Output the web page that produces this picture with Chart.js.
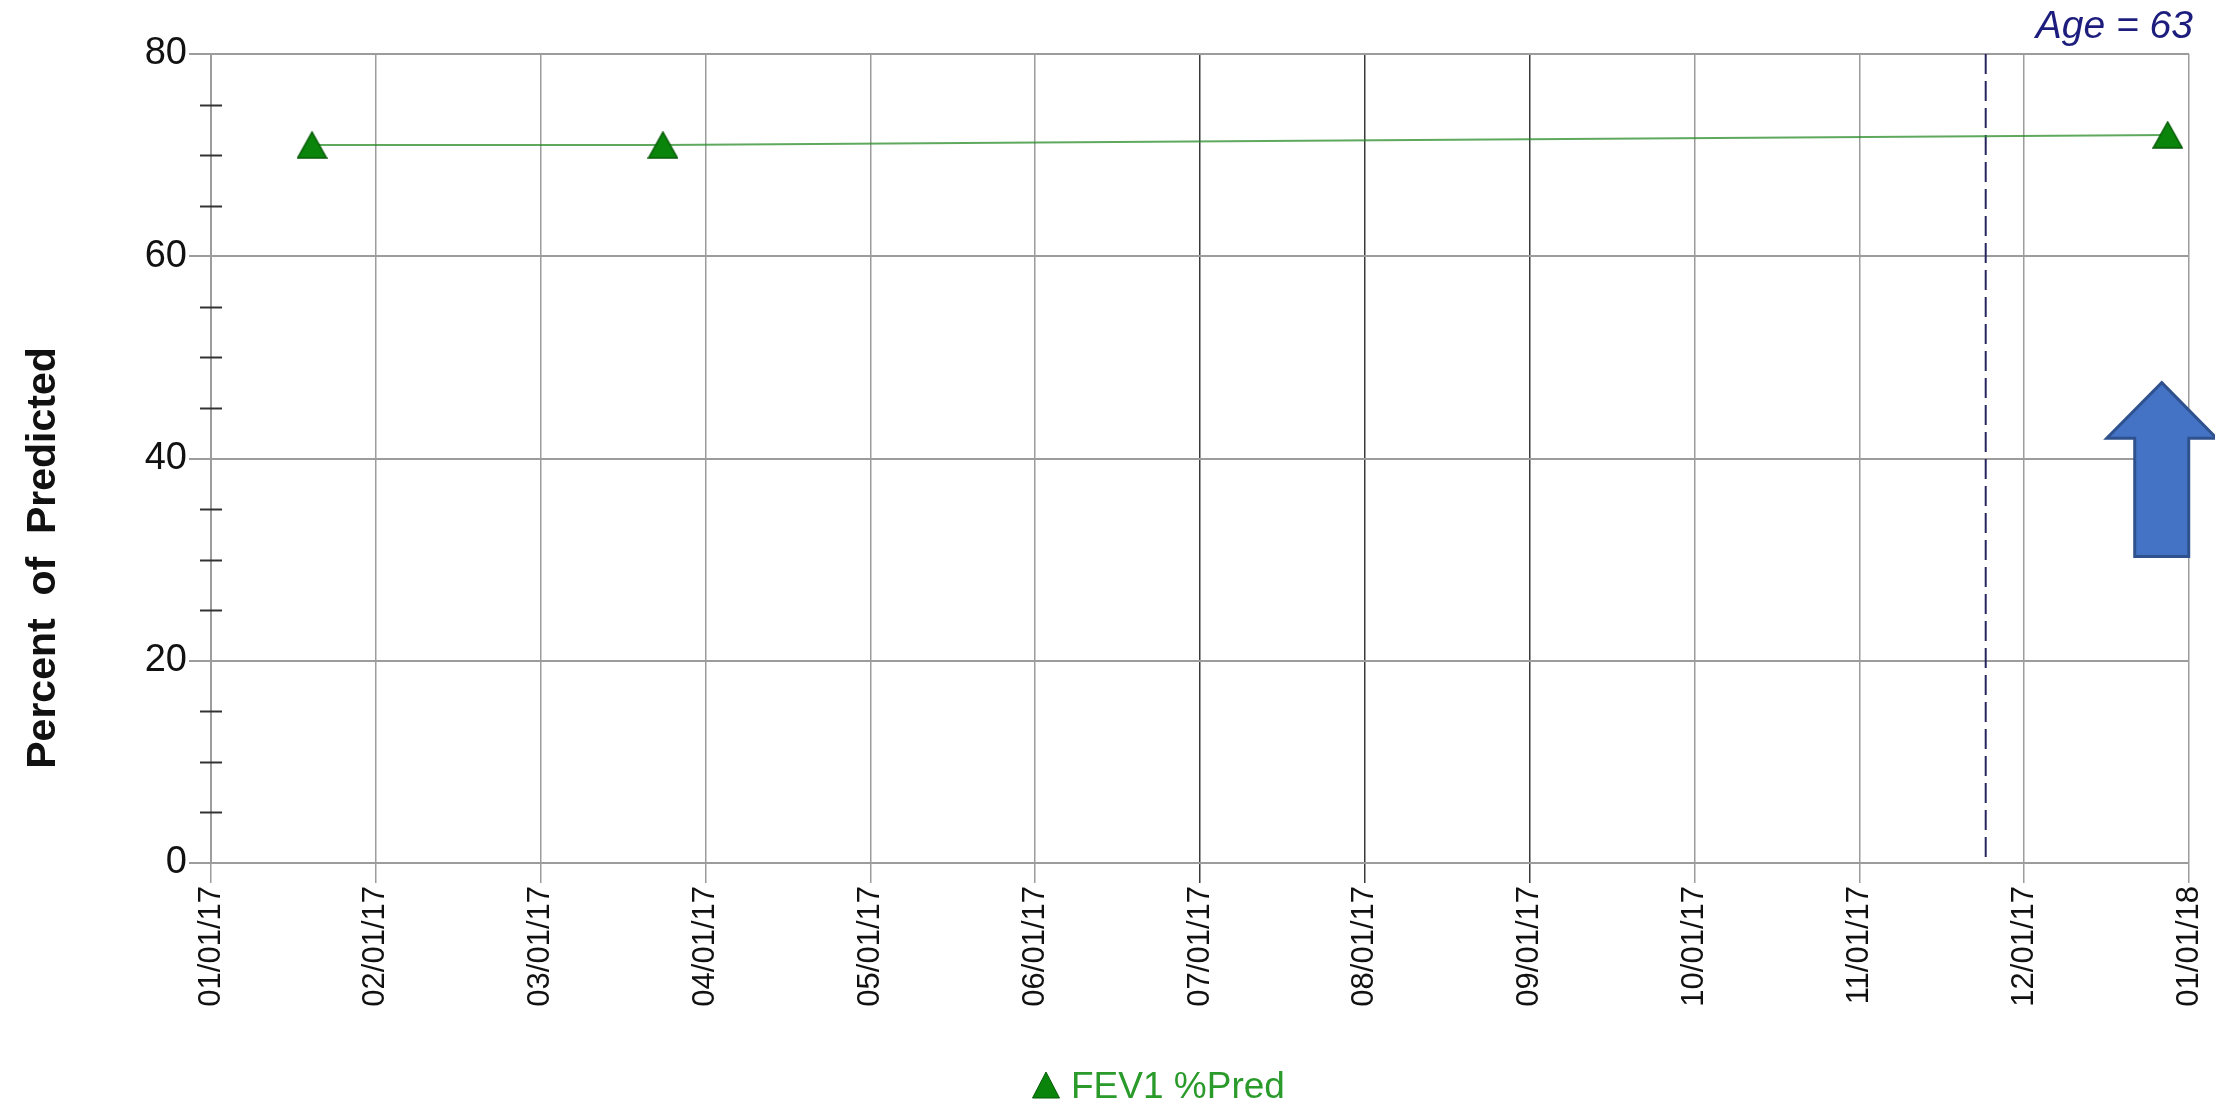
<!DOCTYPE html>
<html>
<head>
<meta charset="utf-8">
<title>FEV1 %Pred</title>
<script src="https://cdn.jsdelivr.net/npm/chart.js@4.4.1/dist/chart.umd.min.js"></script>
<style>
  html, body { margin: 0; padding: 0; background: #ffffff; }
  #wrap { position: relative; width: 2215px; height: 1104px; }
</style>
</head>
<body>
<div id="wrap"><canvas id="chart" width="2215" height="1104"></canvas></div>
<script>
// Month gridline labels along the x axis (one per month, evenly spaced)
const monthTicks = ['01/01/17', '02/01/17', '03/01/17', '04/01/17', '05/01/17', '06/01/17',
                    '07/01/17', '08/01/17', '09/01/17', '10/01/17', '11/01/17', '12/01/17', '01/01/18'];
// Spirometry test dates and FEV1 percent of predicted
const testDates = ['2017-01-20', '2017-03-24', '2017-12-28'];
const fev1Pred = [71, 71, 72];
// Labelled y values
const yTicks = [0, 20, 40, 60, 80];
// Event marker date (dashed line) and patient age note
const markerDate = '2017-11-24';
const ageNote = 'Age = 63';
const seriesName = 'FEV1 %Pred';

const FONT = "'Liberation Sans', Arial, Helvetica, sans-serif";
const GREEN = '#0b840b';
const GRID = '#9c9c9c';
const GRID_DARK = '#3a3a3a';
const darkMonthLines = [6, 7, 8];

// Position on the month axis: month index plus fraction of that month
function monthPos(iso) {
  const [y, m, d] = iso.split('-').map(Number);
  const idx = (y - 2017) * 12 + (m - 1);
  const days = new Date(y, m, 0).getDate();
  return idx + (d - 1) / days;
}

// Filled triangle marker, centred on the data point
function triangleImage(w, h, fill, stroke) {
  const c = document.createElement('canvas');
  c.width = w; c.height = h;
  const g = c.getContext('2d');
  g.beginPath();
  g.moveTo(w / 2, 1);
  g.lineTo(w - 1, h - 1);
  g.lineTo(1, h - 1);
  g.closePath();
  g.fillStyle = fill; g.fill();
  g.strokeStyle = stroke; g.lineWidth = 1.5; g.stroke();
  return c;
}
const marker = triangleImage(31, 28, GREEN, '#075c07');

const points = testDates.map((d, i) => ({ x: monthPos(d), y: fev1Pred[i] }));

const overlay = {
  id: 'overlay',
  beforeDatasetsDraw(chart) {
    const { ctx, chartArea: a, scales: { x } } = chart;
    const px = x.getPixelForValue(monthPos(markerDate));
    ctx.save();
    ctx.strokeStyle = '#25255f';
    ctx.lineWidth = 2;
    ctx.setLineDash([20, 7]);
    ctx.beginPath();
    ctx.moveTo(px, a.top);
    ctx.lineTo(px, a.bottom);
    ctx.stroke();
    ctx.restore();
  },
  afterDraw(chart) {
    const { ctx, chartArea: a, scales: { y } } = chart;
    ctx.save();

    // minor ticks every 5 units, crossing the y axis
    ctx.strokeStyle = '#333333';
    ctx.lineWidth = 2;
    for (let v = 5; v < 80; v += 5) {
      if (yTicks.includes(v)) continue;
      const py = Math.round(y.getPixelForValue(v)) + 0.5;
      ctx.beginPath();
      ctx.moveTo(a.left - 11, py);
      ctx.lineTo(a.left + 11, py);
      ctx.stroke();
    }

    // y axis title
    ctx.save();
    ctx.translate(44, 558);
    ctx.rotate(-Math.PI / 2);
    ctx.fillStyle = '#111111';
    ctx.font = `bold 41px ${FONT}`;
    ctx.textAlign = 'center';
    ctx.textBaseline = 'middle';
    ctx.fillText('Percent  of  Predicted', 0, 0);
    ctx.restore();

    // age note, top right
    ctx.fillStyle = '#1d1d7e';
    ctx.font = `italic 39px ${FONT}`;
    ctx.textAlign = 'right';
    ctx.textBaseline = 'alphabetic';
    ctx.fillText(ageNote, a.right + 4, 38);

    // legend: marker and series name
    const textX = 1071;
    const baseY = 1098;
    const tw = 27, th = 26;
    const lx = textX - 25;
    ctx.beginPath();
    ctx.moveTo(lx, baseY - th);
    ctx.lineTo(lx + tw / 2, baseY);
    ctx.lineTo(lx - tw / 2, baseY);
    ctx.closePath();
    ctx.fillStyle = GREEN; ctx.fill();
    ctx.strokeStyle = '#075c07'; ctx.lineWidth = 1; ctx.stroke();
    ctx.fillStyle = '#2a9a2a';
    ctx.font = `37px ${FONT}`;
    ctx.textAlign = 'left';
    ctx.fillText(seriesName, textX, baseY);

    // upward block arrow beside the latest test
    const meta = chart.getDatasetMeta(0);
    const last = meta.data[meta.data.length - 1];
    const cx = last.x - 6;
    const yTip = y.getPixelForValue(47.5);
    const yNeck = y.getPixelForValue(42);
    const yTail = y.getPixelForValue(30.3);
    ctx.beginPath();
    ctx.moveTo(cx, yTip);
    ctx.lineTo(cx + 55, yNeck);
    ctx.lineTo(cx + 27, yNeck);
    ctx.lineTo(cx + 27, yTail);
    ctx.lineTo(cx - 27, yTail);
    ctx.lineTo(cx - 27, yNeck);
    ctx.lineTo(cx - 55, yNeck);
    ctx.closePath();
    ctx.fillStyle = '#4472c4';
    ctx.fill();
    ctx.strokeStyle = '#2f528f';
    ctx.lineWidth = 3;
    ctx.stroke();

    ctx.restore();
  }
};

new Chart(document.getElementById('chart'), {
  type: 'scatter',
  data: {
    datasets: [{
      label: seriesName,
      data: points,
      showLine: true,
      borderColor: 'rgba(40,140,40,0.75)',
      borderWidth: 2,
      pointStyle: marker,
      pointRadius: 14,
      pointHoverRadius: 14,
      tension: 0
    }]
  },
  options: {
    responsive: false,
    animation: false,
    events: [],
    devicePixelRatio: 1,
    layout: { padding: { top: 54, right: 26, bottom: 0, left: 0 } },
    plugins: { legend: { display: false }, tooltip: { enabled: false } },
    scales: {
      x: {
        type: 'linear',
        min: 0,
        max: monthTicks.length - 1,
        afterBuildTicks(scale) {
          scale.ticks = monthTicks.map((_, i) => ({ value: i }));
        },
        afterFit(scale) {
          scale.height = 241;
          scale.paddingLeft = 0;
          scale.paddingRight = 0;
        },
        grid: {
          color: c => darkMonthLines.includes(c.index) ? GRID_DARK : GRID,
          lineWidth: 1.5,
          tickLength: 20,
          tickColor: c => darkMonthLines.includes(c.index) ? GRID_DARK : GRID
        },
        border: { display: true, color: GRID, width: 2 },
        ticks: {
          autoSkip: false,
          minRotation: 90,
          maxRotation: 90,
          padding: 3,
          color: '#111111',
          font: { family: FONT, size: 31 },
          callback: (v) => monthTicks[v] ?? ''
        }
      },
      y: {
        min: 0,
        max: 80,
        afterFit(scale) {
          scale.width = 211;
          scale.paddingTop = 0;
          scale.paddingBottom = 0;
        },
        grid: {
          color: c => yTicks.includes(c.tick.value) ? GRID : 'rgba(0,0,0,0)',
          lineWidth: 2,
          tickLength: 22,
          tickColor: c => yTicks.includes(c.tick.value) ? GRID : 'rgba(0,0,0,0)'
        },
        border: { display: true, color: GRID, width: 2 },
        ticks: {
          stepSize: 5,
          padding: 2,
          color: '#111111',
          font: { family: FONT, size: 38 },
          callback: (v) => yTicks.includes(v) ? String(v) : ''
        }
      }
    }
  },
  plugins: [overlay]
});
</script>
</body>
</html>
